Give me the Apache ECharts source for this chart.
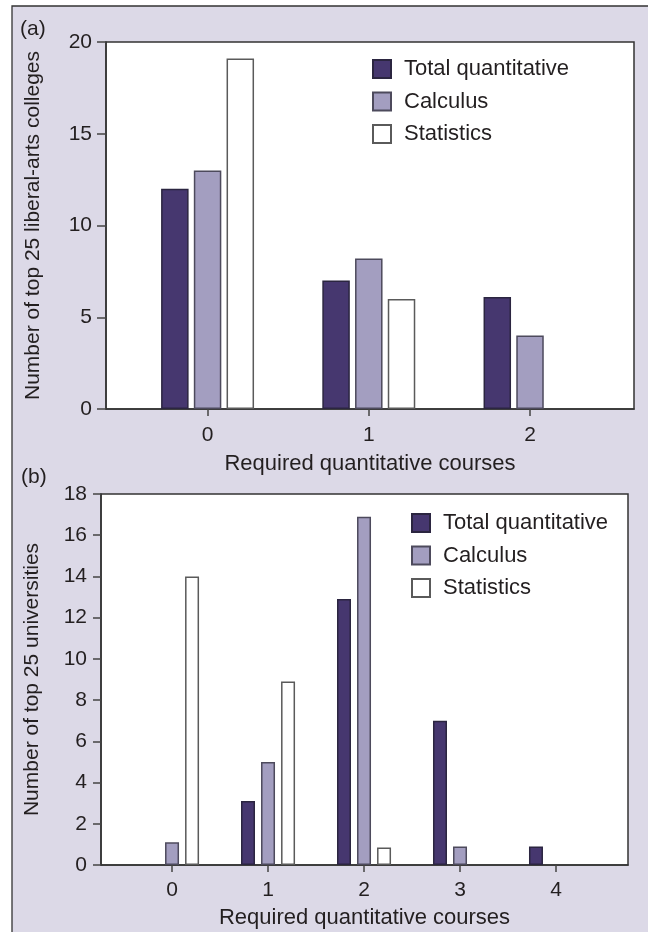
<!DOCTYPE html>
<html>
<head>
<meta charset="utf-8">
<script src="https://cdn.jsdelivr.net/npm/echarts@6/dist/echarts.min.js"></script>
<style>
html,body{margin:0;padding:0;background:#ffffff;}
#chart{width:648px;height:932px;}
</style>
</head>
<body>
<div id="chart"></div>
<script>
// ---- data ----
const seriesNames = ['Total quantitative', 'Calculus', 'Statistics'];
const coursesA = [0, 1, 2];
const totalA = [12, 7, 6.1];
const calculusA = [13, 8.2, 4];
const statisticsA = [19.1, 6, 0];
const yTicksA = [0, 5, 10, 15, 20];

const coursesB = [0, 1, 2, 3, 4];
const totalB = [0, 3.1, 12.9, 7, 0.9];
const calculusB = [1.1, 5, 16.9, 0.9, 0];
const statisticsB = [14, 8.9, 0.85, 0, 0];
const yTicksB = [0, 2, 4, 6, 8, 10, 12, 14, 16, 18];

const yTitleA = 'Number of top 25 liberal-arts colleges';
const yTitleB = 'Number of top 25 universities';
const xTitle = 'Required quantitative courses';

// ---- styles ----
const FONT = '"Liberation Sans", Arial, Helvetica, sans-serif';
const TXT = '#231f20';
const fills = ['#46376f', '#a39ec0', '#ffffff'];
const borders = ['#2b2540', '#4d4a5c', '#5a5a5a'];

function pairs(xs, vals) {
  return xs.map((x, i) => [x, vals[i]]).filter(d => d[1] > 0);
}

const chart = echarts.init(document.getElementById('chart'));

function xAxisFor(gridIndex, cats, min, max, nameGap, margin) {
  return {
    type: 'value', gridIndex: gridIndex, min: min, max: max,
    name: xTitle, nameLocation: 'middle', nameGap: nameGap,
    nameTextStyle: {fontFamily: FONT, fontSize: 22, color: TXT},
    axisLine: {show: true, onZero: false, lineStyle: {color: '#333', width: 1.5}},
    axisTick: {show: true, inside: false, length: 7, customValues: cats, lineStyle: {color: '#444', width: 1.5}},
    axisLabel: {show: true, margin: margin, customValues: cats, fontFamily: FONT, fontSize: 21, color: TXT},
    splitLine: {show: false}
  };
}
function yAxisFor(gridIndex, ticks, name, nameGap, tickLen) {
  return {
    type: 'value', gridIndex: gridIndex, min: ticks[0], max: ticks[ticks.length - 1],
    interval: ticks[1] - ticks[0],
    name: name, nameLocation: 'middle', nameGap: nameGap,
    nameTextStyle: {fontFamily: FONT, fontSize: 21, color: TXT},
    axisLine: {show: true, onZero: false, lineStyle: {color: '#333', width: 1.5}},
    axisTick: {show: true, inside: false, length: tickLen, lineStyle: {color: '#444', width: 1.5}},
    axisLabel: {show: true, margin: 14, fontFamily: FONT, fontSize: 21, color: TXT},
    splitLine: {show: false}
  };
}
function barSeries(idx, axisIdx, xs, vals, width, gap) {
  return {
    type: 'bar', name: seriesNames[idx], xAxisIndex: axisIdx, yAxisIndex: axisIdx,
    data: pairs(xs, vals), barWidth: width, barGap: gap,
    itemStyle: {color: fills[idx], borderColor: borders[idx], borderWidth: 1.5},
    emphasis: {disabled: true}, animation: false
  };
}
const legendCommon = {
  orient: 'vertical', padding: 0, itemWidth: 18, itemHeight: 18, itemGap: 10.5,
  icon: 'rect', selectedMode: false,
  textStyle: {fontFamily: FONT, fontSize: 22, color: TXT, lineHeight: 18, padding: [0, 0, 0, 8]},
  data: seriesNames
};

const option = {
  animation: false,
  backgroundColor: '#ffffff',
  graphic: [
    {type: 'rect', z: -10, silent: true,
     shape: {x: 12, y: 6, width: 650, height: 940},
     style: {fill: '#dcd9e7', stroke: '#333', lineWidth: 1.3}}
  ],
  title: [
    {text: '(a)', left: 15, top: 14, textStyle: {fontFamily: FONT, fontSize: 21, fontWeight: 'normal', color: TXT}},
    {text: '(b)', left: 16, top: 462, textStyle: {fontFamily: FONT, fontSize: 21, fontWeight: 'normal', color: TXT}}
  ],
  legend: [
    Object.assign({left: 372, top: 58}, legendCommon),
    Object.assign({left: 411, top: 512}, legendCommon)
  ],
  grid: [
    {left: 106, top: 42, width: 528, height: 367, show: true, backgroundColor: '#ffffff', borderColor: '#333', borderWidth: 1.5},
    {left: 101, top: 494, width: 527, height: 371, show: true, backgroundColor: '#ffffff', borderColor: '#333', borderWidth: 1.5}
  ],
  xAxis: [
    xAxisFor(0, coursesA, -0.63, 2.645, 44, 16),
    xAxisFor(1, coursesB, -0.74, 4.75, 42, 15)
  ],
  yAxis: [
    yAxisFor(0, yTicksA, yTitleA, 62, 9),
    yAxisFor(1, yTicksB, yTitleB, 58, 8)
  ],
  series: [
    barSeries(0, 0, coursesA, totalA, 27.5, '19%'),
    barSeries(1, 0, coursesA, calculusA, 27.5, '19%'),
    barSeries(2, 0, coursesA, statisticsA, 27.5, '19%'),
    barSeries(0, 1, coursesB, totalB, 14, '43%'),
    barSeries(1, 1, coursesB, calculusB, 14, '43%'),
    barSeries(2, 1, coursesB, statisticsB, 14, '43%')
  ]
};
chart.setOption(option);
</script>
</body>
</html>
